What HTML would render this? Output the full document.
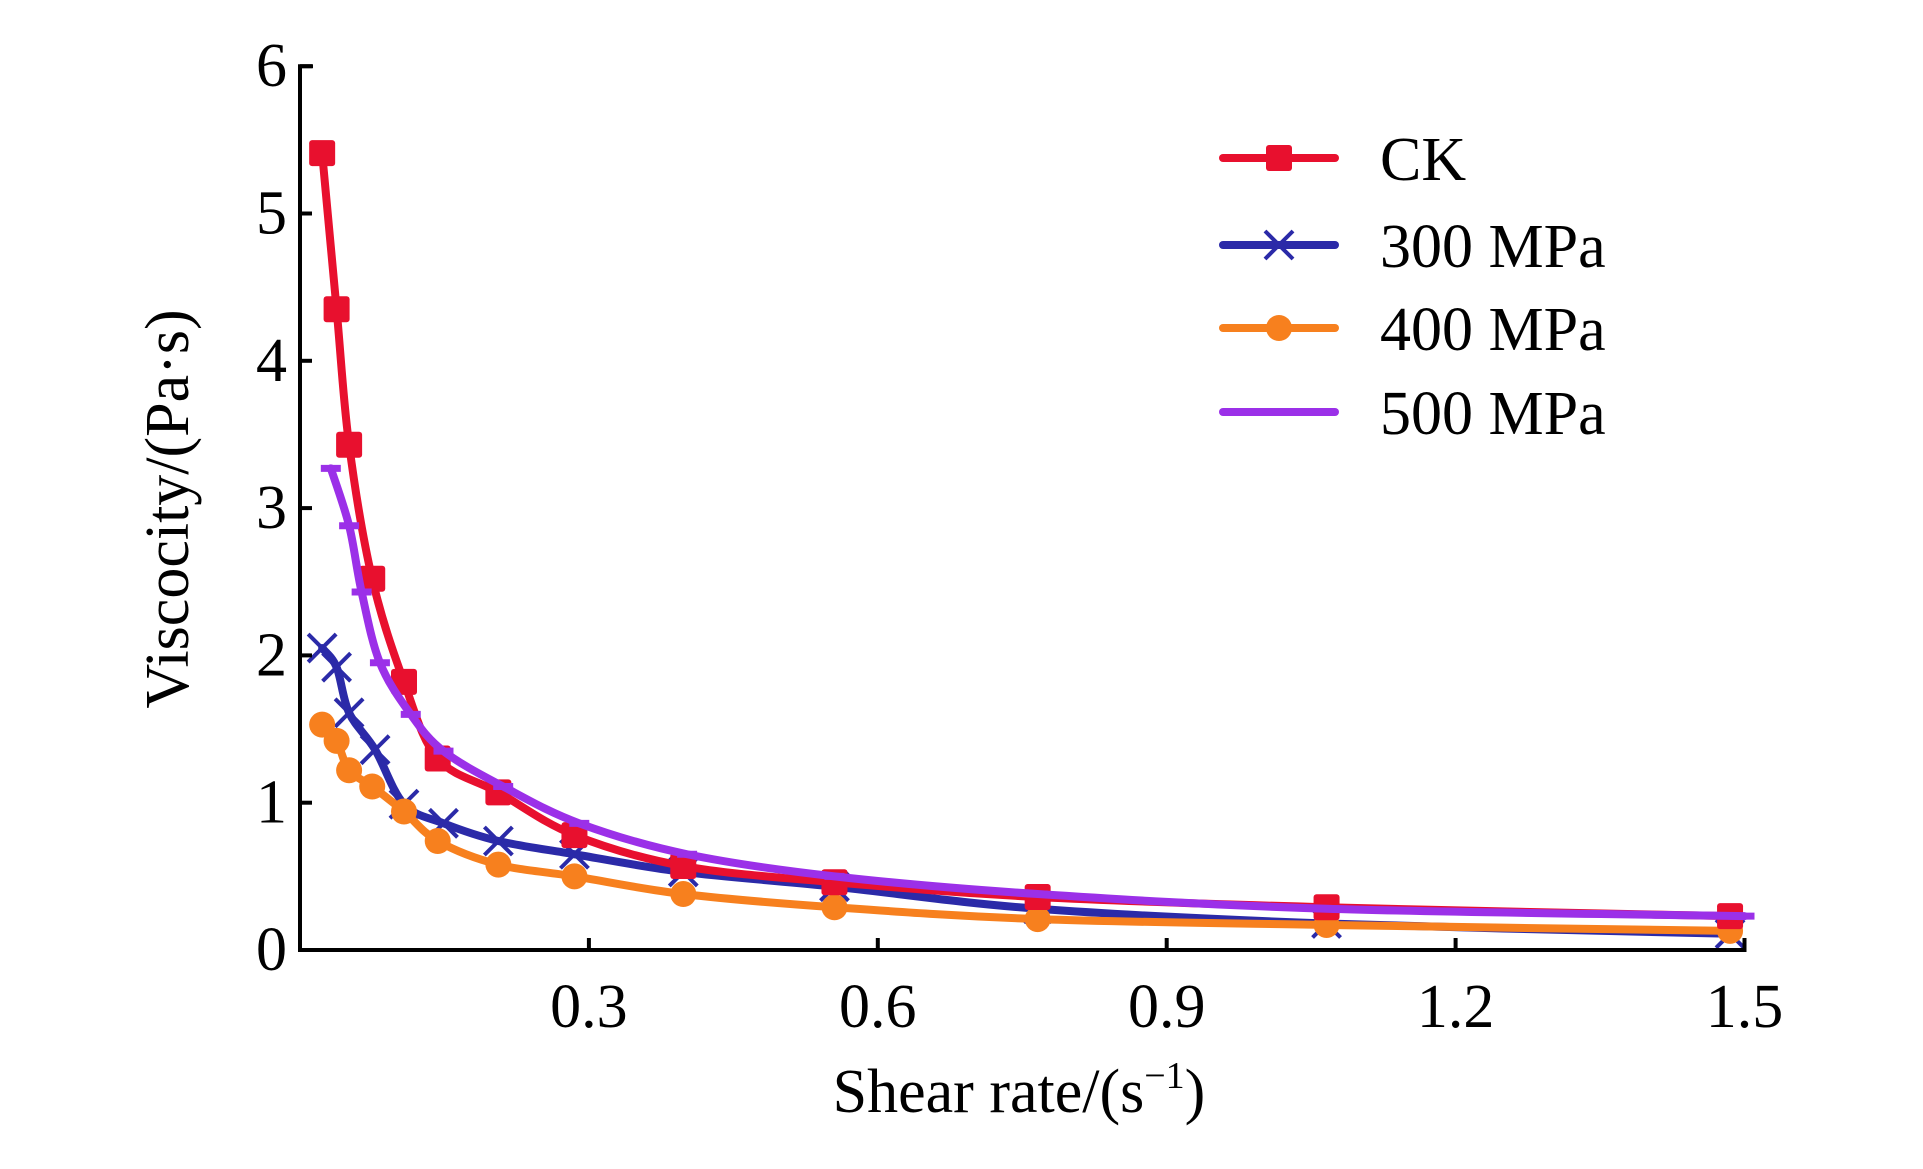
<!DOCTYPE html>
<html><head><meta charset="utf-8"><style>
html,body{margin:0;padding:0;background:#fff;}
svg{display:block;font-family:"Liberation Serif",serif;}
</style></head><body>
<svg id="chart" width="1923" height="1169" viewBox="0 0 1923 1169" xmlns="http://www.w3.org/2000/svg">
<g id="plot"></g>
<g id="axes"></g>
<g id="legend"></g>
</svg>
<script>
const xTicks=[0.3,0.6,0.9,1.2,1.5];
const xTickLabels=["0.3","0.6","0.9","1.2","1.5"];
const yTicks=[0,1,2,3,4,5,6];
const yTickLabels=["0","1","2","3","4","5","6"];
const ckX=[0.023,0.038,0.051,0.075,0.108,0.143,0.206,0.285,0.398,0.555,0.766,1.066,1.485];
const ckY=[5.41,4.35,3.43,2.52,1.82,1.30,1.07,0.78,0.57,0.46,0.36,0.29,0.23];
const p300X=[0.023,0.038,0.051,0.078,0.108,0.149,0.206,0.285,0.398,0.555,0.766,1.066,1.485];
const p300Y=[2.05,1.92,1.61,1.36,0.99,0.86,0.74,0.65,0.53,0.43,0.28,0.18,0.11];
const p400X=[0.023,0.038,0.051,0.075,0.108,0.143,0.206,0.285,0.398,0.555,0.766,1.066,1.485];
const p400Y=[1.53,1.42,1.22,1.11,0.94,0.74,0.58,0.50,0.38,0.29,0.21,0.17,0.13];
const p500X=[0.032,0.051,0.064,0.083,0.115,0.149,0.211,0.29,0.402,0.555,0.766,1.066,1.5];
const p500Y=[3.27,2.88,2.43,1.95,1.60,1.35,1.11,0.86,0.65,0.50,0.38,0.28,0.23];
const seriesNames=["CK","300 MPa","400 MPa","500 MPa"];

const X0=300,XS=963,Y0=950,YS=147.3;
const sx=v=>X0+v*XS, sy=v=>Y0-v*YS;
const NS="http://www.w3.org/2000/svg";
function mk(tag,attrs,parent){const e=document.createElementNS(NS,tag);for(const k in attrs)e.setAttribute(k,attrs[k]);parent.appendChild(e);return e;}
function smooth(xs,ys){const p=xs.map((x,i)=>[sx(x),sy(ys[i])]);let d=`M${p[0][0]},${p[0][1]}`;
 for(let i=0;i<p.length-1;i++){const a=p[i-1]||p[i],b=p[i],c=p[i+1],e=p[i+2]||c;
  const c1=[b[0]+(c[0]-a[0])/6,b[1]+(c[1]-a[1])/6],c2=[c[0]-(e[0]-b[0])/6,c[1]-(e[1]-b[1])/6];
  d+=` C${c1[0]},${c1[1]} ${c2[0]},${c2[1]} ${c[0]},${c[1]}`;}return d;}
const plot=document.getElementById('plot'),axes=document.getElementById('axes'),legend=document.getElementById('legend');
const colors={ck:"#e8102e",p300:"#2b2aa8",p400:"#f7801e",p500:"#9b30e8"};
function marker(type,cx,cy,col,g,size){
 let m;
 if(type==='sq')m=mk('rect',{x:cx-13,y:cy-13,width:26,height:26,rx:3,fill:col},g);
 else if(type==='x')m=mk('path',{d:`M${cx-14},${cy-14}L${cx+14},${cy+14}M${cx-14},${cy+14}L${cx+14},${cy-14}`,stroke:col,'stroke-width':4,fill:'none'},g);
 else if(type==='o')m=mk('circle',{cx:cx,cy:cy,r:13,fill:col},g);
 else m=mk('path',{d:`M${cx-10},${cy}L${cx+10},${cy}`,stroke:col,'stroke-width':7,fill:'none'},g);
 return m;}
function series(xs,ys,col,type,name){
 const g=mk('g',{},plot);
 
 
 const l=mk('path',{d:smooth(xs,ys),stroke:col,'stroke-width':8,fill:'none','stroke-linecap':'round'},g);
 
 
 xs.forEach((x,i)=>{const m=marker(type,sx(x),sy(ys[i]),col,g);
  
  });
}
series(p300X,p300Y,colors.p300,'x','series-300mpa');
series(p400X,p400Y,colors.p400,'o','series-400mpa');
series(ckX,ckY,colors.ck,'sq','series-ck');
series(p500X,p500Y,colors.p500,'d','series-500mpa');
// axes
const ax=mk('path',{d:`M${X0+13},${sy(6)}L${X0},${sy(6)}L${X0},${Y0}L${sx(1.5)},${Y0}L${sx(1.5)},${Y0-12}`,stroke:'#000','stroke-width':4,fill:'none'},axes);


xTicks.forEach((v,i)=>{
 const t=mk('line',{x1:sx(v),x2:sx(v),y1:Y0,y2:Y0-12,stroke:'#000','stroke-width':4},axes);
 
 
 const tx=mk('text',{x:sx(v),y:1027,'font-size':62,'text-anchor':'middle'},axes);tx.textContent=xTickLabels[i];
 
 
});
yTicks.forEach((v,i)=>{
 const t=mk('line',{x1:X0,x2:X0+12,y1:sy(v),y2:sy(v),stroke:'#000','stroke-width':4},axes);
 
 
 const tx=mk('text',{x:287,y:sy(v)+20,'font-size':62,'text-anchor':'end'},axes);tx.textContent=yTickLabels[i];
 
 
});
const xt=mk('text',{x:1019,y:1112,'font-size':62,'text-anchor':'middle'},axes);
xt.innerHTML='Shear rate/(s<tspan font-size="38" dy="-24">−1</tspan><tspan dy="24">)</tspan>';


const yt=mk('text',{x:0,y:0,'font-size':62,'text-anchor':'middle',transform:'translate(188,509) rotate(-90)'},axes);
yt.textContent='Viscocity/(Pa·s)';


// legend
const ly=[158,245,328,412],lc=[colors.ck,colors.p300,colors.p400,colors.p500],lt=['sq','x','o','none'];
seriesNames.forEach((n,i)=>{
 const g=mk('g',{},legend);
 
 
 mk('line',{x1:1223,x2:1335,y1:ly[i],y2:ly[i],stroke:lc[i],'stroke-width':8,'stroke-linecap':'round'},g);
 if(lt[i]!=='none')marker(lt[i],1279,ly[i],lc[i],g);
 const t=mk('text',{x:1380,y:ly[i]+22,'font-size':62},g);t.textContent=n;
});
</script>
</body></html>
